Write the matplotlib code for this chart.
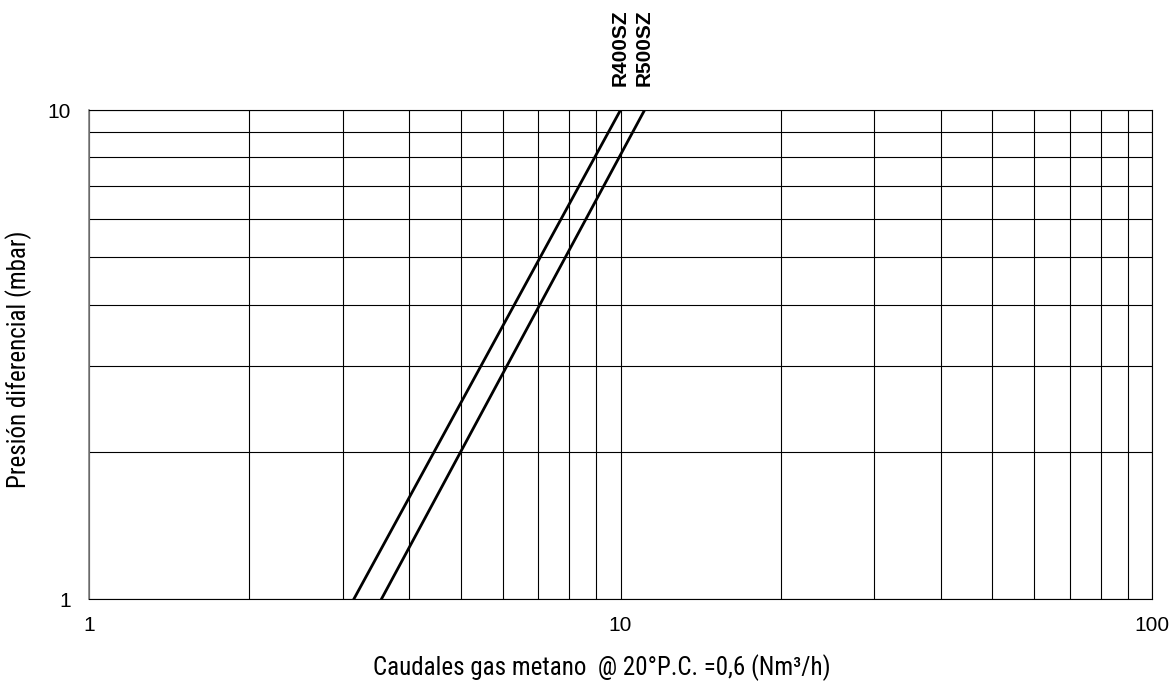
import matplotlib
matplotlib.use("Agg")
import matplotlib.pyplot as plt
from matplotlib.ticker import FixedLocator, NullFormatter, FixedFormatter

plt.rcParams['font.family'] = ['Liberation Sans', 'DejaVu Sans']

# curvas de perdida de carga (caudal en Nm3/h, presion en mbar)
modelos = ['R400SZ', 'R500SZ']
caudal_r400 = [3.15, 10.0]
presion_r400 = [1.0, 10.0]
caudal_r500 = [3.55, 11.1]
presion_r500 = [1.0, 10.0]

x_ticks = [1, 10, 100]
y_ticks = [1, 10]
x_menores = [2, 3, 4, 5, 6, 7, 8, 9, 20, 30, 40, 50, 60, 70, 80, 90]
y_menores = [2, 3, 4, 5, 6, 7, 8, 9]

fig = plt.figure(figsize=(11.76, 6.95), dpi=100)
ax = fig.add_axes([0.0757, 0.1381, 0.9039, 0.7036])

ax.plot(caudal_r400, presion_r400, color='black', lw=2.0)
ax.plot(caudal_r500, presion_r500, color='black', lw=2.0)

ax.set_xscale('log')
ax.set_yscale('log')
ax.set_xlim(1, 100)
ax.set_ylim(1, 10)

ax.xaxis.set_major_locator(FixedLocator(x_ticks))
ax.yaxis.set_major_locator(FixedLocator(y_ticks))
ax.xaxis.set_minor_locator(FixedLocator(x_menores))
ax.yaxis.set_minor_locator(FixedLocator(y_menores))
ax.xaxis.set_major_formatter(FixedFormatter([str(v) for v in x_ticks]))
ax.yaxis.set_major_formatter(FixedFormatter([str(v) for v in y_ticks]))
ax.xaxis.set_minor_formatter(NullFormatter())
ax.yaxis.set_minor_formatter(NullFormatter())
ax.tick_params(which='both', length=0, labelsize=15)
ax.tick_params(axis='x', pad=12)
ax.tick_params(axis='y', pad=13)

ax.grid(True, which='both', color='black', lw=0.8)
for s in ax.spines.values():
    s.set_color('black')
    s.set_linewidth(0.8)
ax.spines['left'].set_color('#808080')
ax.spines['left'].set_linewidth(1.2)

fuente = ['Roboto Condensed', 'Liberation Sans Narrow', 'Liberation Sans', 'DejaVu Sans']
ax.set_xlabel('Caudales gas metano  @ 20°P.C. =0,6 (Nm³/h)', family=fuente, fontsize=18)
ax.set_ylabel('Presión diferencial (mbar)', family=fuente, fontsize=18)
ax.xaxis.set_label_coords(0.482, -0.112)
ax.yaxis.set_label_coords(-0.054, 0.49)

# etiquetas de modelo encima de cada curva
for nombre, q in zip(modelos, [caudal_r400[-1], caudal_r500[-1]]):
    ax.text(q, 11.2, nombre, rotation=90, ha='center', va='bottom', fontweight='bold',
            fontsize=15, clip_on=False)

fig.savefig('out.png', dpi=100)
